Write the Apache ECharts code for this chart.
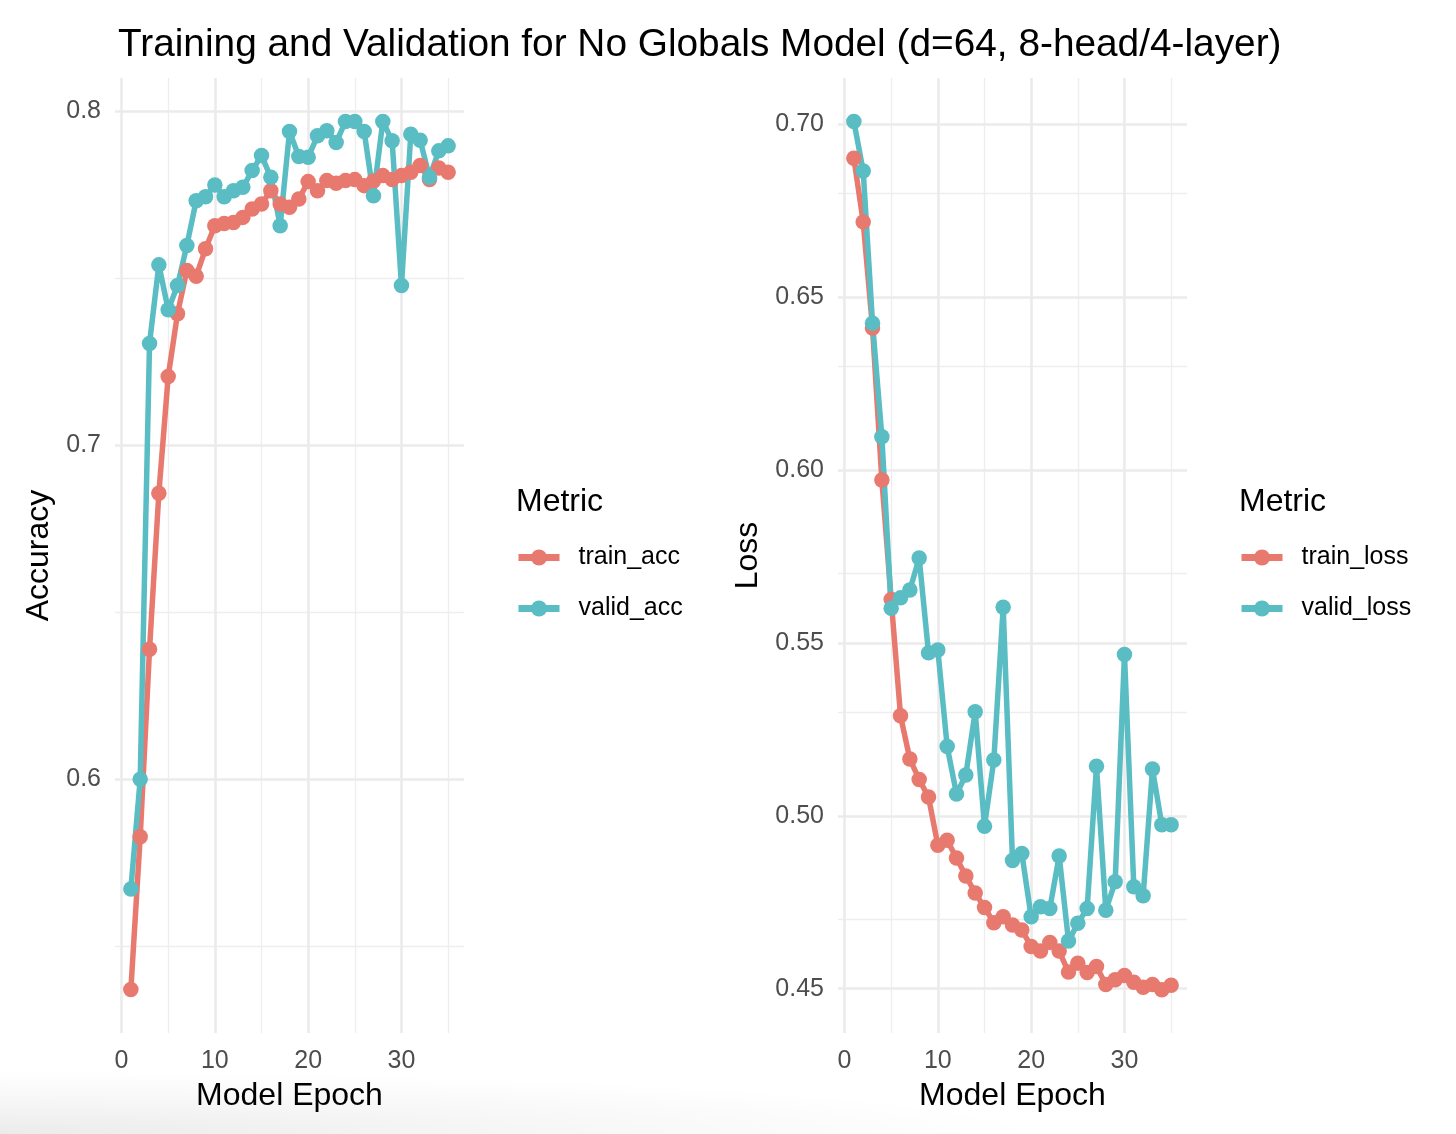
<!DOCTYPE html>
<html>
<head>
<meta charset="utf-8">
<script src="https://cdn.jsdelivr.net/npm/echarts@6/dist/echarts.min.js"></script>
<style>
html,body{margin:0;padding:0;background:#fff;}
#c{width:1456px;height:1134px;}
</style>
</head>
<body>
<div id="c"></div>
<script>
const epochs = [1,2,3,4,5,6,7,8,9,10,11,12,13,14,15,16,17,18,19,20,21,22,23,24,25,26,27,28,29,30,31,32,33,34,35];
const trainAcc = [0.5371,0.5828,0.6389,0.6856,0.7205,0.7393,0.7522,0.7505,0.7587,0.7656,0.7663,0.7666,0.7681,0.7706,0.7721,0.7761,0.7721,0.7711,0.7736,0.7788,0.7761,0.7791,0.7783,0.7791,0.7794,0.7776,0.7790,0.7806,0.7794,0.7806,0.7816,0.7836,0.7794,0.7829,0.7816];
const validAcc = [0.5672,0.6000,0.7304,0.7539,0.7405,0.7477,0.7597,0.7731,0.7743,0.7778,0.7743,0.7761,0.7771,0.7821,0.7866,0.7801,0.7656,0.7938,0.7863,0.7861,0.7925,0.7940,0.7905,0.7968,0.7968,0.7938,0.7746,0.7968,0.7910,0.7477,0.7930,0.7912,0.7801,0.7880,0.7895];
const trainLoss = [0.6901,0.6717,0.6410,0.5971,0.5625,0.5289,0.5164,0.5105,0.5054,0.4915,0.4929,0.4878,0.4826,0.4777,0.4735,0.4691,0.4708,0.4684,0.4670,0.4622,0.4609,0.4634,0.4609,0.4548,0.4574,0.4547,0.4564,0.4512,0.4526,0.4538,0.4519,0.4504,0.4512,0.4497,0.4510];
const validLoss = [0.7007,0.6864,0.6424,0.6096,0.5600,0.5630,0.5653,0.5745,0.5471,0.5479,0.5200,0.5063,0.5118,0.5301,0.4970,0.5161,0.5603,0.4871,0.4891,0.4708,0.4737,0.4732,0.4884,0.4638,0.4689,0.4732,0.5143,0.4727,0.4809,0.5466,0.4795,0.4769,0.5135,0.4974,0.4974];

const xMajor = [0,10,20,30];
const xMinor = [5,15,25,35];
const accMajor = [0.6,0.7,0.8];
const accMinor = [0.55,0.65,0.75];
const lossMajor = [0.45,0.50,0.55,0.60,0.65,0.70];
const lossMinor = [0.475,0.525,0.575,0.625,0.675];

const RED = '#E8796F';
const TEAL = '#59BDC3';
const FONT = '"Liberation Sans", Arial, Helvetica, sans-serif';

const chart = echarts.init(document.getElementById('c'), null, {renderer:'canvas'});

function gridMarks(yMajor, yMinor){
  const d = [];
  xMinor.forEach(v => d.push({xAxis: v, lineStyle:{color:'#EEEEEE', width:1.4, type:'solid'}}));
  yMinor.forEach(v => d.push({yAxis: v, lineStyle:{color:'#EEEEEE', width:1.4, type:'solid'}}));
  xMajor.forEach(v => d.push({xAxis: v, lineStyle:{color:'#EBEBEB', width:2.6, type:'solid'}}));
  yMajor.forEach(v => d.push({yAxis: v, lineStyle:{color:'#EBEBEB', width:2.6, type:'solid'}}));
  return {
    silent: true, symbol: ['none','none'], label:{show:false}, animation:false,
    emphasis:{disabled:true}, z: 1, data: d
  };
}

function pairs(vals){ return epochs.map((e,i)=>[e, vals[i]]); }

function lineSeries(name, vals, color, idx, marks){
  const s = {
    name, type:'line', xAxisIndex: idx, yAxisIndex: idx,
    data: pairs(vals), symbol:'circle', symbolSize:15.5, showAllSymbol:true,
    lineStyle:{color, width:5.5}, itemStyle:{color}, z: 10, clip:false,
    emphasis:{disabled:true}, animation:false
  };
  if (marks) s.markLine = marks;
  return s;
}

const axisLabelStyle = {color:'#4D4D4D', fontSize:25, fontFamily:FONT};

const option = {
  backgroundColor:'#ffffff',
  animation:false,
  title:[
    {text:'Training and Validation for No Globals Model (d=64, 8-head/4-layer)', left:113, top:21,
     textStyle:{fontSize:38.8, fontWeight:'normal', color:'#000', fontFamily:FONT}},
    {text:'Metric', left:511, top:481, textStyle:{fontSize:32, fontWeight:'normal', color:'#000', fontFamily:FONT}},
    {text:'Metric', left:1234, top:481, textStyle:{fontSize:32, fontWeight:'normal', color:'#000', fontFamily:FONT}}
  ],
  legend:[
    {data:['train_acc','valid_acc'], orient:'vertical', left:515, top:545, padding:0,
     itemWidth:41, itemHeight:20, itemGap:26, lineStyle:{width:7},
     textStyle:{fontSize:25, color:'#000', fontFamily:FONT, padding:[0,0,0,14]}, selectedMode:false},
    {data:['train_loss','valid_loss'], orient:'vertical', left:1238, top:545, padding:0,
     itemWidth:41, itemHeight:20, itemGap:26, lineStyle:{width:7},
     textStyle:{fontSize:25, color:'#000', fontFamily:FONT, padding:[0,0,0,14]}, selectedMode:false}
  ],
  grid:[
    {left:115, top:78, width:349, height:955},
    {left:838, top:78, width:349, height:955}
  ],
  xAxis:[0,1].map(i => ({
    type:'value', gridIndex:i, min:-0.7, max:36.7,
    name:'Model Epoch', nameLocation:'middle', nameGap:47,
    nameTextStyle:{fontSize:32, color:'#000', fontFamily:FONT},
    axisLine:{show:false}, axisTick:{show:false}, splitLine:{show:false},
    axisLabel:{...axisLabelStyle, margin:16, customValues: xMajor, showMinLabel:true, showMaxLabel:true}
  })),
  yAxis:[
    {type:'value', gridIndex:0, min:0.5241, max:0.8098,
     name:'Accuracy', nameLocation:'middle', nameGap:60, nameRotate:90,
     nameTextStyle:{fontSize:32, color:'#000', fontFamily:FONT},
     axisLine:{show:false}, axisTick:{show:false}, splitLine:{show:false},
     axisLabel:{...axisLabelStyle, margin:14, customValues: accMajor, formatter:v=>Number(v).toFixed(1)}},
    {type:'value', gridIndex:1, min:0.4372, max:0.7133,
     name:'Loss', nameLocation:'middle', nameGap:74, nameRotate:90,
     nameTextStyle:{fontSize:32, color:'#000', fontFamily:FONT},
     axisLine:{show:false}, axisTick:{show:false}, splitLine:{show:false},
     axisLabel:{...axisLabelStyle, margin:14, customValues: lossMajor, formatter:v=>Number(v).toFixed(2)}}
  ],
  series:[
    lineSeries('train_acc', trainAcc, RED, 0, gridMarks(accMajor, accMinor)),
    lineSeries('valid_acc', validAcc, TEAL, 0, null),
    lineSeries('train_loss', trainLoss, RED, 1, gridMarks(lossMajor, lossMinor)),
    lineSeries('valid_loss', validLoss, TEAL, 1, null)
  ],
  graphic:[
    {type:'rect', x:0, y:1134, originX:0, originY:0, scaleY:0.06, silent:true, z:-1,
     shape:{x:0, y:-1100, width:1300, height:1100},
     style:{fill:{type:'radial', x:0, y:1, r:0.95, colorStops:[
       {offset:0, color:'rgba(0,0,0,0.08)'},
       {offset:0.5, color:'rgba(0,0,0,0.035)'},
       {offset:1, color:'rgba(0,0,0,0)'}]}}}
  ]
};
chart.setOption(option);
</script>
</body>
</html>
